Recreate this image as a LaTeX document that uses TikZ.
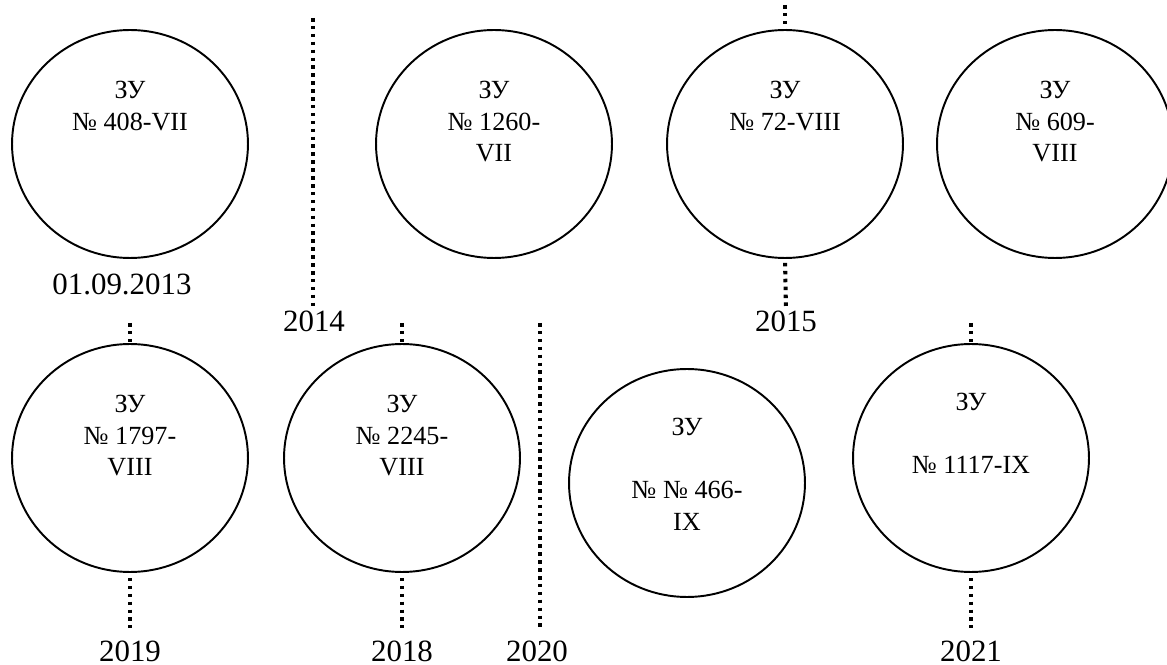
\documentclass[tikz,border=0pt]{standalone}
\usepackage{fontspec}
\setmainfont{Liberation Serif}
\usetikzlibrary{positioning,shapes.geometric}
\tikzset{
  lawcircle/.style={draw, line width=1.1pt, ellipse, minimum width=4.72cm,
    minimum height=4.56cm, inner sep=0pt},
  lawtext/.style={align=center, inner sep=0pt, font=\fontsize{14.9}{17.9}\selectfont},
  yearlabel/.style={inner sep=0pt, font=\fontsize{17.6}{21}\selectfont},
  timeline/.style={line width=2.3pt, dash pattern=on 2pt off 2.5pt}
}

\begin{document}
\begin{tikzpicture}[x=0.02cm, y=-0.02cm]
  \useasboundingbox (0,0) rectangle (1167,665);
  % upper row
  \node[lawcircle] (z408) at (130,144) {};
  \node[lawcircle] (z1260) at (494,144) {};
  \node[lawcircle] (z72) at (785,144) {};
  \node[lawcircle] (z609) at (1055,144) {};
  \node[lawtext, below=1.04cm of z408.north] (t408) {ЗУ\\№ 408-VII};
  \node[lawtext, below=1.04cm of z1260.north] (t1260) {ЗУ\\№ 1260-\\VII};
  \node[lawtext, below=1.04cm of z72.north] (t72) {ЗУ\\№ 72-VIII};
  \node[lawtext, below=1.04cm of z609.north] (t609) {ЗУ\\№ 609-\\VIII};
  % lower row
  \node[lawcircle] (z1797) at (130,458) {};
  \node[lawcircle] (z2245) at (402,458) {};
  \node[lawcircle] (z466) at (687,483) {};
  \node[lawcircle] (z1117) at (971,458) {};
  \node[lawtext, below=1.04cm of z1797.north] (t1797) {ЗУ\\№ 1797-\\VIII};
  \node[lawtext, below=1.04cm of z2245.north] (t2245) {ЗУ\\№ 2245-\\VIII};
  \node[lawtext, below=1cm of z466.north] (t466) {ЗУ\\[17.9pt]№ № 466-\\IX};
  \node[lawtext, below=1cm of z1117.north] (t1117) {ЗУ\\[17.9pt]№ 1117-IX};

  % years
  \node[yearlabel] (d2013) at (122,284) {01.09.2013};
  \node[yearlabel] (d2014) at (314,321) {2014};
  \node[yearlabel] (d2015) at (786,321) {2015};
  \node[yearlabel] (d2019) at (130,651) {2019};
  \node[yearlabel] (d2018) at (402,651) {2018};
  \node[yearlabel] (d2020) at (537,651) {2020};
  \node[yearlabel] (d2021) at (971,651) {2021};

  % free ends of the dotted lines
  \coordinate (top2014) at (313,18);
  \coordinate (top72) at (785,5);
  \coordinate (top2020) at (540,323);
  \coordinate (top1797) at (130,323);
  \coordinate (top2245) at (402,323);
  \coordinate (top1117) at (971,323);

  \draw[timeline] (top2014) -- (top2014 |- d2014.north);
  \draw[timeline] (top72) -- (z72.north);
  \draw[timeline, shorten <=0.08cm] (z72.south) -- (d2015.north);
  \draw[timeline, shorten >=0.24cm] (top2020) -- (top2020 |- d2020.north);
  \draw[timeline] (top1797) -- (z1797.north);
  \draw[timeline] (top2245) -- (z2245.north);
  \draw[timeline] (top1117) -- (z1117.north);
  \draw[timeline, shorten <=0.1cm, shorten >=0.24cm] (z1797.south) -- (d2019.north);
  \draw[timeline, shorten <=0.1cm, shorten >=0.24cm] (z2245.south) -- (d2018.north);
  \draw[timeline, shorten <=0.1cm, shorten >=0.24cm] (z1117.south) -- (d2021.north);
\end{tikzpicture}
\end{document}
